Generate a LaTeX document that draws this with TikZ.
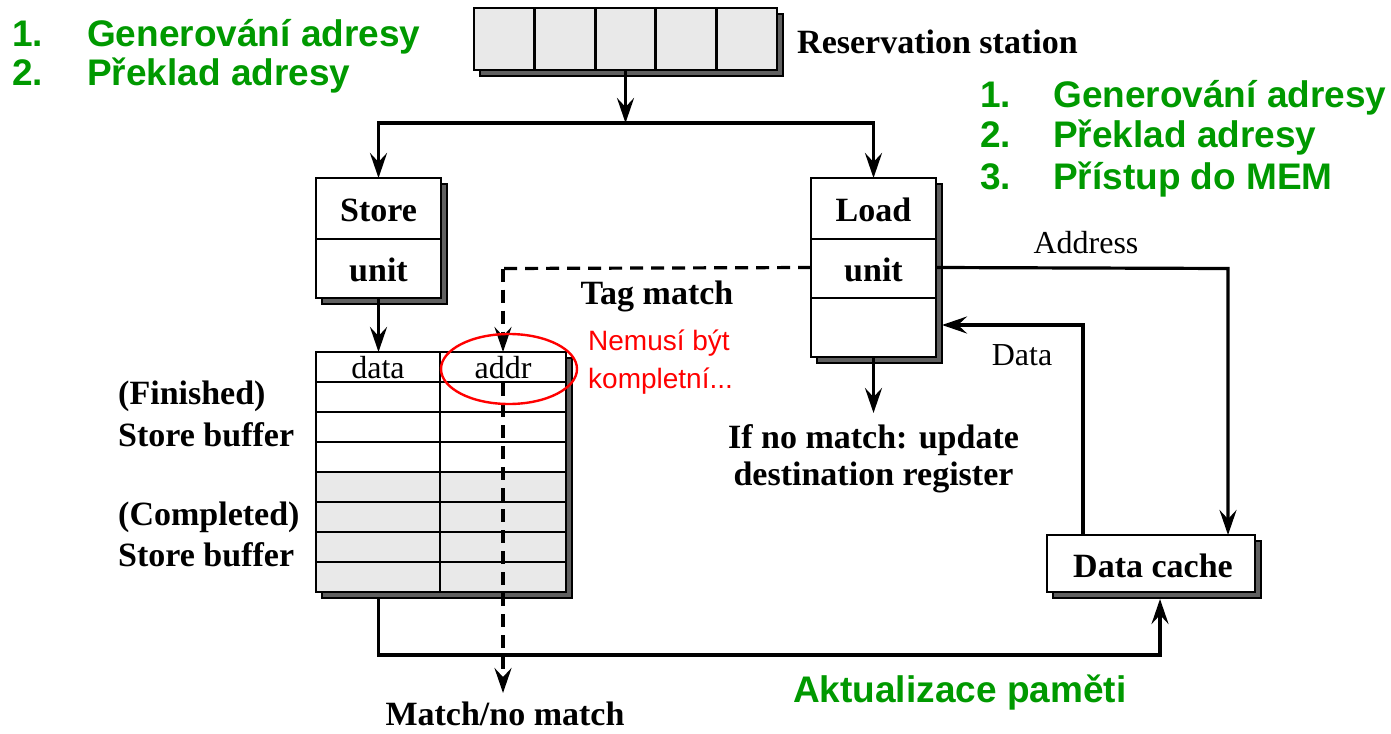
\documentclass[tikz,border=0pt]{standalone}
\usepackage{fontspec}
\setmainfont{Liberation Serif}
\newfontfamily\arialf{Liberation Sans}
\usetikzlibrary{arrows.meta,shadows}
\definecolor{gr}{HTML}{009900}
\definecolor{cellgray}{HTML}{E9E9E9}
\definecolor{shad}{HTML}{606060}
\tikzset{
  box/.style={draw, line width=2.8pt, fill=white, inner sep=0pt, outer sep=0pt, rectangle, anchor=north west,
    copy shadow={shadow xshift=6pt, shadow yshift=-6pt, fill=shad, draw=black, line width=1.5pt}},
  ln/.style={line width=2.8pt},
  tip/.style={-{Stealth[length=25pt,width=17pt,inset=9pt]}},
  arr/.style={line width=3.2pt, tip},
  dsh/.style={line width=3.2pt, dash pattern=on 13pt off 8pt},
  bt/.style={font=\fontsize{34}{38}\selectfont\bfseries, inner sep=0pt},
  rt/.style={font=\fontsize{32}{36}\selectfont, inner sep=0pt},
  gt/.style={font=\arialf\fontsize{37}{40}\selectfont\bfseries, text=gr, inner sep=0pt, anchor=base west},
  redt/.style={font=\arialf\fontsize{28}{32}\selectfont, text=red, inner sep=0pt, anchor=base west},
}
\begin{document}
\begin{tikzpicture}[x=1pt,y=-1pt]
\useasboundingbox (0,0) rectangle (1391,733);
% Reservation station
\node[box, fill=cellgray, minimum width=303pt, minimum height=62pt] (rs) at (474,8) {};
\foreach \k in {1,2,3,4} \draw[ln] (474+60.6*\k,8) -- (474+60.6*\k,70);
\node[bt, anchor=west] (rslab) at (797,42) {Reservation station};
% Store unit
\node[box, minimum width=125pt, minimum height=120pt] (store) at (316,178) {};
\draw[ln] (316,239) -- (441,239);
\node[bt] (storet) at (378.5,210) {Store};
\node[bt] (storeu) at (378.5,270) {unit};
% Load unit
\node[box, minimum width=125pt, minimum height=179pt] (load) at (811,178) {};
\draw[ln] (811,239) -- (936,239);
\draw[ln] (811,298) -- (936,298);
\node[bt] (loadt) at (873.5,210) {Load};
\node[bt] (loadu) at (873.5,270) {unit};
% Store buffer
\node[box, minimum width=250pt, minimum height=240pt] (sb) at (316,352) {};
\fill[cellgray] (317.4,472) rectangle (564.6,590.6);
\foreach \y in {382,412,442,472,502,532,562} \draw[ln] (316,\y) -- (566,\y);
\draw[ln] (440,352) -- (440,592);
\draw[line width=2.8pt] (316,352) rectangle (566,592);
\node[rt] (datat) at (378,368) {data};
\node[rt] (addrt) at (503,368) {addr};
\node[bt, anchor=west] (fin) at (118,396) {(Finished)};
\node[bt, anchor=west] (sb1) at (118,435) {Store buffer};
\node[bt, anchor=west] (comp) at (118,517) {(Completed)};
\node[bt, anchor=west] (sb2) at (118,555) {Store buffer};
% Data cache
\node[box, minimum width=208pt, minimum height=57pt] (cache) at (1047,535) {};
\node[bt] (cachet) at (1153,566) {Data cache};
% coordinates
\coordinate (j) at (625.5,123);
\coordinate (tagc) at (503,268.5);
\coordinate (tagd) at (503,352);
\coordinate (mtop) at (503,383);
\coordinate (mbot) at (503,693);
\coordinate (ldown) at (873.5,413);
\coordinate (aright) at (1228,268.5);
\coordinate (atop) at (1228,535);
\coordinate (dcs) at (1083,535);
\coordinate (dturn) at (1083,325);
\coordinate (din) at (942,325);
\coordinate (sbb) at (378.5,598);
\coordinate (sbc) at (378.5,655);
\coordinate (cbi) at (1160,655);
\coordinate (cbt) at (1160,599);
% connectors
\draw[arr] (rs.south) -- (j);
\draw[arr] (j) -| (store.north);
\draw[arr] (j) -| (load.north);
\draw[arr] (store.south) -- (store.south |- sb.north);
\draw[dsh] (load.west) -- (tagc);
\draw[dsh, tip] (tagc) -- (tagd);
\draw[dsh, tip] (mtop) -- (mbot);
\draw[arr] (load.south) -- (ldown);
\draw[arr] (load.east) -- (aright) -- (atop);
\draw[arr] (dcs) -- (dturn) -- (din);
\draw[arr] (sbb) -- (sbc) -- (cbi) -- (cbt);
% labels
\node[bt] (tag) at (657,296) {Tag match};
\node[bt] (nm1) at (873.5,440) {If no match: update};
\node[bt] (nm2) at (873.5,477) {destination register};
\node[rt] (addrl) at (1086,243) {Address};
\node[rt] (datal) at (1022,355) {Data};
\node[bt] (match) at (505,714) {Match/no match};
% red
\draw[red, line width=2.4pt] (509,369) ellipse [x radius=68pt, y radius=35pt];
\node[redt] (r1) at (588,350) {Nemusí být};
\node[redt] (r2) at (588,388) {kompletní...};
% green
\node[gt] (g1n) at (12,47) {1.};
\node[gt] (g1) at (87,47) {Generování adresy};
\node[gt] (g2n) at (12,86) {2.};
\node[gt] (g2) at (87,86) {Překlad adresy};
\node[gt] (h1n) at (980,107) {1.};
\node[gt] (h1) at (1053,107) {Generování adresy};
\node[gt] (h2n) at (980,147) {2.};
\node[gt] (h2) at (1053,147) {Překlad adresy};
\node[gt] (h3n) at (980,189) {3.};
\node[gt] (h3) at (1053,189) {Přístup do MEM};
\node[gt] (akt) at (793,702) {Aktualizace paměti};
\end{tikzpicture}
\end{document}
